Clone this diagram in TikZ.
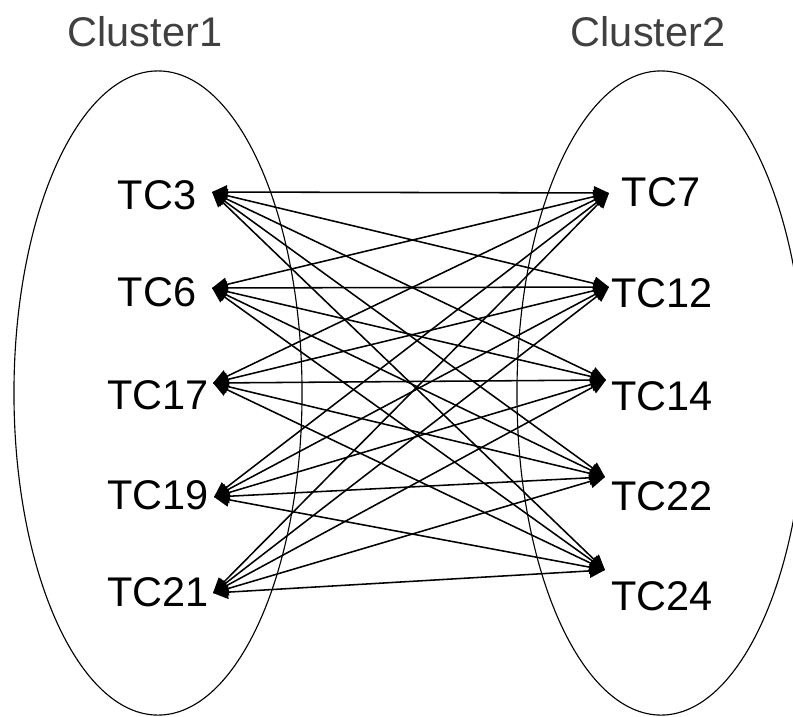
\documentclass[tikz,border=0pt]{standalone}
\usepackage{fontspec}
\setmainfont{Liberation Sans}
\usetikzlibrary{shapes.geometric, arrows.meta}
\definecolor{titleGray}{RGB}{64, 64, 64}

\begin{document}
\begin{tikzpicture}[
    x=0.025cm, y=-0.025cm,
    cluster/.style={
        ellipse,
        draw=black,
        line width=0.8pt,
        inner sep=0pt,
        minimum height=16.1cm
    },
    title/.style={font=\fontsize{29.5}{35}\selectfont, text=titleGray},
    tc/.style={font=\fontsize{29.5}{35}\selectfont, inner sep=0pt},
    link/.style={{Triangle[length=0.38cm, width=0.34cm]}-{Triangle[length=0.38cm, width=0.34cm]}, line width=1.1pt}
]
    \useasboundingbox (0,0) rectangle (793,716);
    \clip (0,0) rectangle (793,716);

    % Clusters
    \node[cluster, minimum width=7.2cm] (cluster1) at (158,393) {};
    \node[cluster, minimum width=7.2cm] (cluster2) at (661,393) {};
    \node[title] (title1) at (145,32) {Cluster1};
    \node[title] (title2) at (648,32) {Cluster2};

    % Left column
    \node[tc] (tc3) at (157,195) {TC3};
    \node[tc] (tc6) at (157,292) {TC6};
    \node[tc] (tc17) at (158,395) {TC17};
    \node[tc] (tc19) at (158,495) {TC19};
    \node[tc] (tc21) at (158,592) {TC21};

    % Right column
    \node[tc] (tc7) at (661,192) {TC7};
    \node[tc] (tc12) at (662,293) {TC12};
    \node[tc] (tc14) at (662,396) {TC14};
    \node[tc] (tc22) at (662,496) {TC22};
    \node[tc] (tc24) at (662,596) {TC24};

    % Ports
    \coordinate (p3) at (212,192);
    \coordinate (p6) at (212,288);
    \coordinate (p17) at (213,383);
    \coordinate (p19) at (214,497);
    \coordinate (p21) at (213,593);
    \coordinate (p7) at (609,193);
    \coordinate (p12) at (609,287);
    \coordinate (p14) at (606,380);
    \coordinate (p22) at (605,477);
    \coordinate (p24) at (605,570);

    % Connections
    \foreach \a in {p3, p6, p17, p19, p21} {
        \foreach \b in {p7, p12, p14, p22, p24} {
            \draw[link] (\a) -- (\b);
        }
    }

\end{tikzpicture}
\end{document}
